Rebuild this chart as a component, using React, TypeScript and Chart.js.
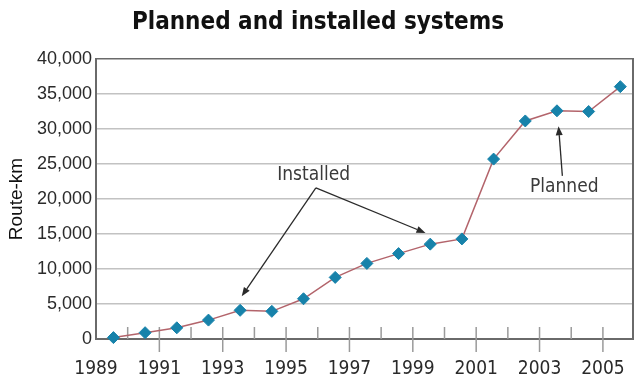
import React, { useEffect, useRef } from "react";
import { Chart, registerables } from "chart.js";

Chart.register(...registerables);

const years = [1989, 1990, 1991, 1992, 1993, 1994, 1995, 1996, 1997, 1998, 1999, 2000, 2001, 2002, 2003, 2004, 2005];
const routeKm = [200, 900, 1600, 2700, 4100, 3950, 5750, 8800, 10800, 12200, 13550, 14300, 25700, 31150, 32600, 32500, 36050];
const yTickValues = [0, 5000, 10000, 15000, 20000, 25000, 30000, 35000, 40000];
const xLabelYears = [1989, 1991, 1993, 1995, 1997, 1999, 2001, 2003, 2005];

const titleText = "Planned and installed systems";
const yAxisTitle = "Route-km";
const installedLabel = "Installed";
const plannedLabel = "Planned";

// annotation anchors in data coordinates
const installedText = { x: 1995.87, y: 23400 };
const installedApex = { x: 1995.94, y: 21600 };
const installedTips = [
  { x: 1993.6, y: 6100 },
  { x: 1999.4, y: 15150 },
];
const plannedText = { x: 2003.78, y: 21700 };
const plannedTail = { x: 2003.72, y: 23300 };
const plannedTip = { x: 2003.6, y: 30400 };

const NARROW = '"DejaVu Sans Condensed", "Liberation Sans Narrow", "Liberation Sans", sans-serif';
const SANS = '"Liberation Sans", Arial, sans-serif';

function arrow(ctx: CanvasRenderingContext2D, x1: number, y1: number, x2: number, y2: number) {
  const ang = Math.atan2(y2 - y1, x2 - x1);
  const len = 9;
  const w = 3.5;
  const bx = x2 - len * Math.cos(ang);
  const by = y2 - len * Math.sin(ang);
  ctx.beginPath();
  ctx.moveTo(x1, y1);
  ctx.lineTo(bx, by);
  ctx.stroke();
  ctx.beginPath();
  ctx.moveTo(x2, y2);
  ctx.lineTo(bx + w * Math.sin(ang), by - w * Math.cos(ang));
  ctx.lineTo(bx - w * Math.sin(ang), by + w * Math.cos(ang));
  ctx.closePath();
  ctx.fill();
}

const framePlugin = {
  id: "frame",
  beforeDatasetsDraw(chart: any) {
    const { ctx, chartArea, scales } = chart;
    const xs = scales.x;
    ctx.save();
    // right border
    ctx.strokeStyle = "#6a6a6a";
    ctx.lineWidth = 2;
    ctx.beginPath();
    ctx.moveTo(chartArea.right, chartArea.top - 1);
    ctx.lineTo(chartArea.right, chartArea.bottom + 1);
    ctx.stroke();
    // x tick marks
    ctx.strokeStyle = "#9a9a9a";
    ctx.lineWidth = 1.5;
    years.forEach((yr) => {
      if (yr === years[0]) return;
      const px = xs.getPixelForValue(yr);
      const labeled = xLabelYears.includes(yr);
      ctx.beginPath();
      ctx.moveTo(px, chartArea.bottom - 12);
      ctx.lineTo(px, labeled ? chartArea.bottom + 13 : chartArea.bottom);
      ctx.stroke();
    });
    ctx.restore();
  },
  afterDatasetsDraw(chart: any) {
    const { ctx, scales } = chart;
    const X = (v: number) => scales.x.getPixelForValue(v);
    const Y = (v: number) => scales.y.getPixelForValue(v);
    ctx.save();
    ctx.strokeStyle = "#2a2a2a";
    ctx.fillStyle = "#2a2a2a";
    ctx.lineWidth = 1.3;
    installedTips.forEach((t) => arrow(ctx, X(installedApex.x), Y(installedApex.y), X(t.x), Y(t.y)));
    arrow(ctx, X(plannedTail.x), Y(plannedTail.y), X(plannedTip.x), Y(plannedTip.y));
    ctx.fillStyle = "#3a3a3a";
    ctx.font = `19px ${NARROW}`;
    ctx.textAlign = "center";
    ctx.textBaseline = "middle";
    ctx.fillText(installedLabel, X(installedText.x), Y(installedText.y));
    ctx.fillText(plannedLabel, X(plannedText.x), Y(plannedText.y));
    ctx.restore();
  },
};

export default function App() {
  const ref = useRef<HTMLCanvasElement | null>(null);
  useEffect(() => {
    if (!ref.current) return;
    const chart = new Chart(ref.current, {
      type: "line",
      data: {
        datasets: [
          {
            label: "Route-km",
            data: years.map((yr, i) => ({ x: yr + 0.55, y: routeKm[i] })),
            borderColor: "#b3646b",
            borderWidth: 1.5,
            pointStyle: "rectRot",
            pointRadius: 6,
            pointBackgroundColor: "#1782aa",
            pointBorderColor: "#1782aa",
            pointBorderWidth: 1,
            tension: 0,
            clip: false as any,
          },
        ],
      },
      options: {
        responsive: false,
        animation: false,
        layout: { padding: { left: 0, right: 4, top: 0, bottom: 0 } },
        plugins: {
          legend: { display: false },
          tooltip: { enabled: false },
          title: {
            display: true,
            text: titleText,
            color: "#111",
            font: { family: NARROW, size: 24, weight: "bold", lineHeight: 1.25 },
            padding: { top: 8, bottom: 21 },
          },
        },
        scales: {
          x: {
            type: "linear",
            min: years[0],
            max: 2005.95,
            grid: { display: false },
            border: { display: true, color: "#6a6a6a", width: 2 },
            afterFit: (s: any) => {
              s.height = 47;
            },
            ticks: {
              stepSize: 1,
              autoSkip: false,
              includeBounds: false,
              maxRotation: 0,
              padding: 11,
              color: "#2a2a2a",
              font: { family: NARROW, size: 19 },
              callback: (v: any) => {
                const n = Math.round(Number(v));
                return xLabelYears.includes(n) ? String(n) : "";
              },
            },
          },
          y: {
            min: 0,
            max: 40000,
            afterFit: (s: any) => {
              s.width = 96;
            },
            afterBuildTicks: (s: any) => {
              s.ticks = yTickValues.map((v) => ({ value: v }));
            },
            grid: {
              drawTicks: false,
              lineWidth: 1.5,
              color: (c: any) => (c.tick && c.tick.value === 40000 ? "#6a6a6a" : "#c2c2c2"),
            },
            border: { display: true, color: "#6a6a6a", width: 2 },
            title: {
              display: true,
              text: yAxisTitle,
              color: "#111",
              font: { family: SANS, size: 19 },
              padding: { top: 5, bottom: 0 },
            },
            ticks: {
              padding: 4,
              color: "#2a2a2a",
              font: { family: SANS, size: 18 },
              callback: (v: any) => Number(v).toLocaleString("en-US"),
            },
          },
        },
      },
      plugins: [framePlugin],
    });
    return () => chart.destroy();
  }, []);
  return (
    <div style={{ position: "fixed", left: 0, top: 0, width: 640, height: 386, background: "#fff" }}>
      <canvas ref={ref} width={640} height={386} />
    </div>
  );
}
